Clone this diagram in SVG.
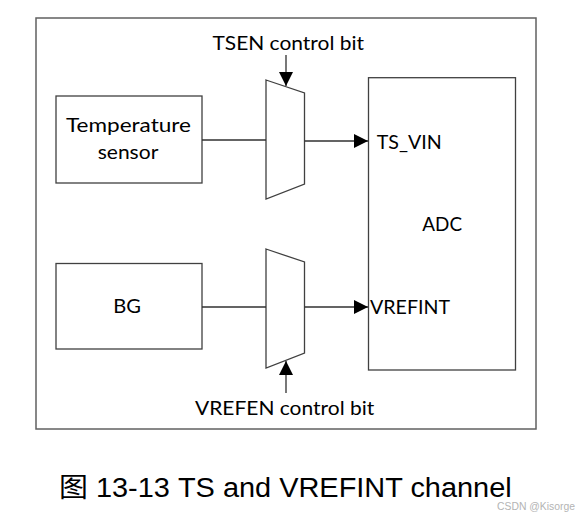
<svg xmlns="http://www.w3.org/2000/svg" width="579" height="518" viewBox="0 0 579 518">
<style>
.box{fill:none;stroke:#404040;stroke-width:1.3}
.frame{fill:none;stroke:#606060;stroke-width:1.5}
.wire{fill:none;stroke:#303030;stroke-width:1.3}
.lbl{font-family:Lato,"Open Sans","Liberation Sans",sans-serif;font-size:19px;fill:#000}
.cap{font-family:"Liberation Sans","Noto Sans CJK SC",Arial,sans-serif;font-size:27px;fill:#000}
.wm{font-family:"Liberation Sans",Arial,sans-serif;font-size:10.5px;fill:#b4b4b4}
</style>
<defs>
<marker id="arr" viewBox="0 0 10 10" refX="10" refY="5" markerUnits="userSpaceOnUse" markerWidth="15" markerHeight="14" orient="auto">
<path d="M0,0 L10,5 L0,10 z" fill="#000"/>
</marker>
</defs>
<rect x="0" y="0" width="579" height="518" fill="#fff"/>
<rect id="frame" class="frame" x="36" y="18" width="500" height="411"/>
<g id="temp-sensor">
<rect class="box" x="56" y="96" width="146" height="87"/>
<text class="lbl" x="66" y="131.7" textLength="125" lengthAdjust="spacingAndGlyphs">Temperature</text>
<text class="lbl" x="97.7" y="159.3" textLength="60.6" lengthAdjust="spacingAndGlyphs">sensor</text>
</g>
<g id="bg">
<rect class="box" x="56" y="263.5" width="146" height="85.5"/>
<text class="lbl" x="113.3" y="313.3" textLength="27.7" lengthAdjust="spacingAndGlyphs">BG</text>
</g>
<g id="mux1">
<polygon class="box" points="266,80 304.5,93 304.5,184 266,199"/>
</g>
<g id="mux2">
<polygon class="box" points="266,249 304.5,262 304.5,353 266,368"/>
</g>
<g id="adc">
<rect class="box" x="368.5" y="77.7" width="147" height="292.3"/>
<text class="lbl" x="422.3" y="231" textLength="39.7" lengthAdjust="spacingAndGlyphs">ADC</text>
<text class="lbl" x="376.7" y="149.3" textLength="65" lengthAdjust="spacingAndGlyphs">TS_VIN</text>
<text class="lbl" x="370" y="314" textLength="80" lengthAdjust="spacingAndGlyphs">VREFINT</text>
</g>
<g id="tsen-label">
<text class="lbl" x="212.5" y="49.7" textLength="151.5" lengthAdjust="spacingAndGlyphs">TSEN control bit</text>
</g>
<g id="vrefen-label">
<text class="lbl" x="195" y="415" textLength="179.3" lengthAdjust="spacingAndGlyphs">VREFEN control bit</text>
</g>
<g id="connectors">
<line class="wire" x1="202" y1="140" x2="266" y2="140"/>
<line class="wire" x1="304.5" y1="141" x2="368" y2="141" marker-end="url(#arr)"/>
<line class="wire" x1="202" y1="307" x2="266" y2="307"/>
<line class="wire" x1="304.5" y1="307" x2="368" y2="307" marker-end="url(#arr)"/>
<line class="wire" x1="286" y1="55" x2="286" y2="86" marker-end="url(#arr)"/>
<line class="wire" x1="286" y1="393" x2="286" y2="361" marker-end="url(#arr)"/>
</g>
<text class="cap" x="59" y="496.7" textLength="452.7" lengthAdjust="spacingAndGlyphs">图 13-13 TS and VREFINT channel</text>
<text class="wm" x="497" y="510" textLength="78" lengthAdjust="spacingAndGlyphs">CSDN @Kisorge</text>
</svg>
